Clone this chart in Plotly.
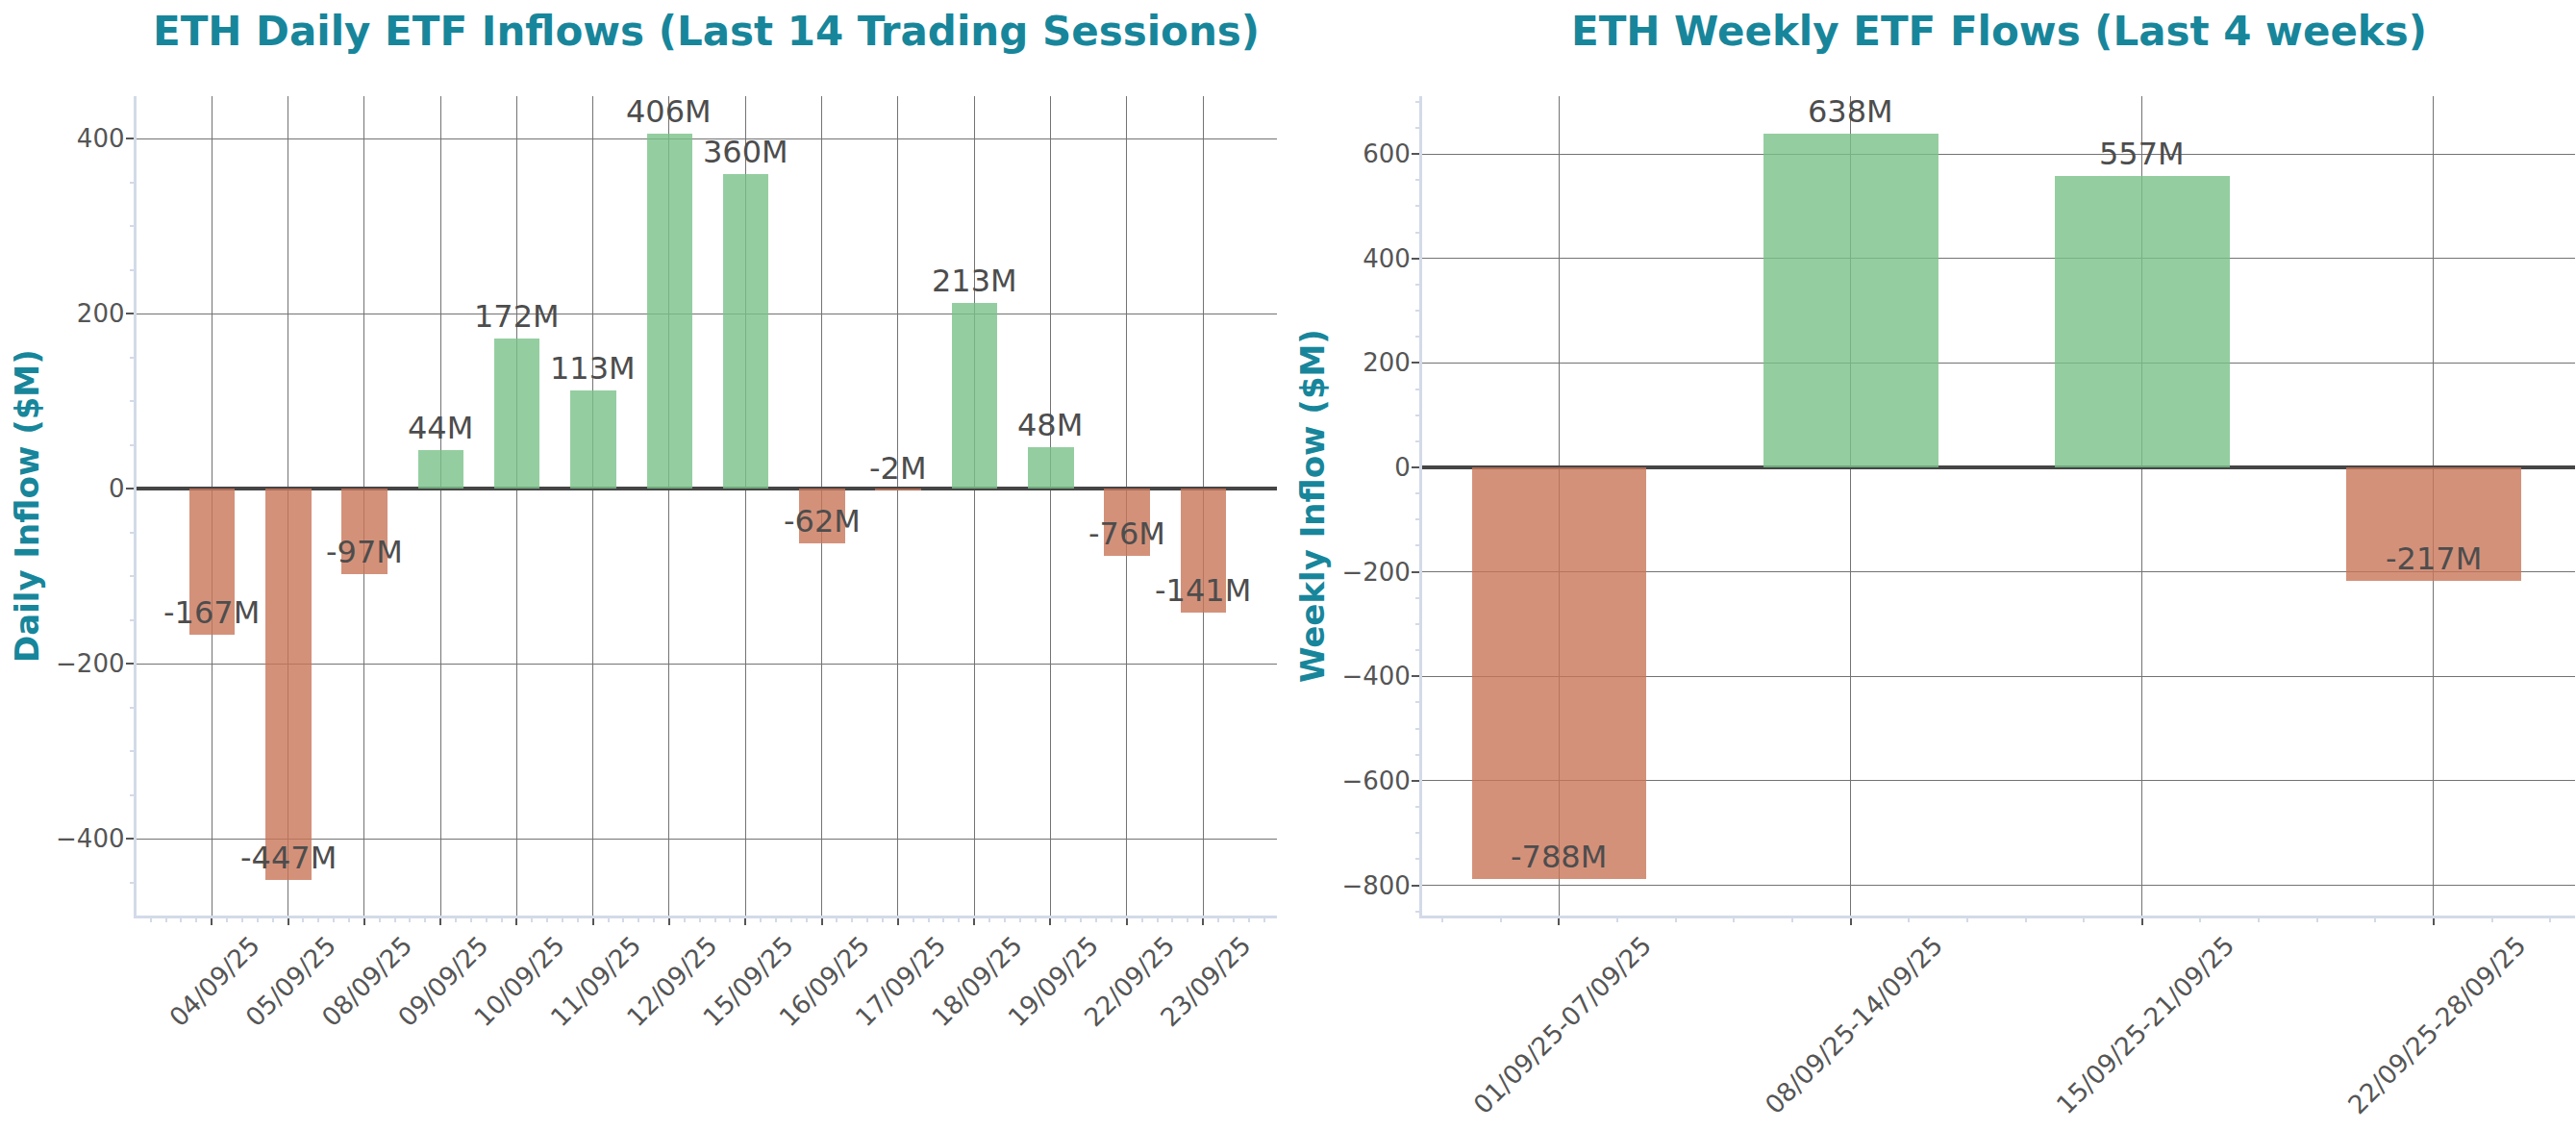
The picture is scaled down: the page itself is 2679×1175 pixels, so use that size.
import plotly.graph_objects as go

# ---------------- data ----------------
daily_dates = ["04/09/25", "05/09/25", "08/09/25", "09/09/25", "10/09/25", "11/09/25", "12/09/25",
               "15/09/25", "16/09/25", "17/09/25", "18/09/25", "19/09/25", "22/09/25", "23/09/25"]
daily_flows = [-167, -447, -97, 44, 172, 113, 406, 360, -62, -2, 213, 48, -76, -141]

weekly_labels = ["01/09/25-07/09/25", "08/09/25-14/09/25", "15/09/25-21/09/25", "22/09/25-28/09/25"]
weekly_flows = [-788, 638, 557, -217]

title_left = "ETH Daily ETF Inflows (Last 14 Trading Sessions)"
title_right = "ETH Weekly ETF Flows (Last 4 weeks)"
ytitle_left = "Daily Inflow ($M)"
ytitle_right = "Weekly Inflow ($M)"

# ---------------- style ----------------
W, H = 2679, 1175
M_T, M_B = 100, 223
PLOT_H = H - M_T - M_B
FONT = "DejaVu Sans"
TEAL = "#17869b"
TICK_C = "#555555"
LABEL_C = "#4d4d4d"
GREEN = "rgba(121,194,136,0.8)"
RED = "rgba(201,118,89,0.8)"
GRID_C = "#737373"
AXLINE_C = "#d3dae8"
ZERO_C = "#454545"
XT_SIZE = 26.5

fig = go.Figure()

def colors(vals):
    return [GREEN if v > 0 else RED for v in vals]

dx = list(range(len(daily_dates)))
wx = list(range(len(weekly_labels)))

fig.add_trace(go.Bar(x=dx, y=daily_flows, marker=dict(color=colors(daily_flows), line=dict(width=0)),
                     width=0.6, xaxis="x", yaxis="y", showlegend=False, hoverinfo="skip"))
fig.add_trace(go.Bar(x=wx, y=weekly_flows, marker=dict(color=colors(weekly_flows), line=dict(width=0)),
                     width=0.6, xaxis="x2", yaxis="y2", showlegend=False, hoverinfo="skip"))

annotations = []
for xi, v in zip(dx, daily_flows):
    annotations.append(dict(x=xi, y=v, xref="x", yref="y", text=f"{v}M", showarrow=False,
                            yanchor="middle", xanchor="center", yshift=23,
                            font=dict(family=FONT, size=32, color=LABEL_C)))
for xi, v in zip(wx, weekly_flows):
    annotations.append(dict(x=xi, y=v, xref="x2", yref="y2", text=f"{v}M", showarrow=False,
                            yanchor="middle", xanchor="center", yshift=23,
                            font=dict(family=FONT, size=32, color=LABEL_C)))

L_DOM = [141.7 / W, 1328 / W]
R_DOM = [1479 / W, 2678 / W]

title_y = 1 + (M_T - 33) / PLOT_H
for dom, txt in [(L_DOM, title_left), (R_DOM, title_right)]:
    annotations.append(dict(x=(dom[0] + dom[1]) / 2, y=title_y, xref="paper", yref="paper",
                            text=txt, showarrow=False, xanchor="center", yanchor="middle",
                            font=dict(family=FONT, size=42, color=TEAL, weight="bold")))
for xpx, txt in [(28, ytitle_left), (1365, ytitle_right)]:
    annotations.append(dict(x=xpx / W, y=0.5, xref="paper", yref="paper", text=txt, textangle=-90,
                            showarrow=False, xanchor="center", yanchor="middle",
                            font=dict(family=FONT, size=34, color=TEAL, weight="bold")))

def label_shift(labels):
    # half the horizontal extent of a 45-degree label, so its centre sits under the tick
    em = 0.0
    for ch in labels[0]:
        em += 0.337 if ch == "/" else (0.361 if ch == "-" else 0.636)
    return int(round(em * XT_SIZE / 2 * 0.7071))

def xaxis(dom, labels, rng):
    return dict(domain=dom, range=rng, tickmode="array", tickvals=list(range(len(labels))),
                ticktext=labels, tickangle=-45, ticklabelshift=label_shift(labels),
                ticklabelstandoff=-5,
                showgrid=True, gridcolor=GRID_C, gridwidth=1.2,
                zeroline=False, showline=True, linecolor=AXLINE_C, linewidth=3,
                ticks="outside", ticklen=7, tickwidth=2, tickcolor=TICK_C,
                tickfont=dict(family=FONT, size=XT_SIZE, color=TICK_C),
                minor=dict(dtick=0.2, tick0=0, ticks="outside", ticklen=4, tickwidth=1.5,
                           tickcolor=AXLINE_C, showgrid=False),
                fixedrange=True)

def yaxis(rng, anchor):
    return dict(domain=[0, 1], range=rng, anchor=anchor, dtick=200, showgrid=True, gridcolor=GRID_C,
                gridwidth=1.2, zeroline=True, zerolinecolor=ZERO_C, zerolinewidth=3.5,
                showline=True, linecolor=AXLINE_C, linewidth=3,
                ticks="outside", ticklen=8, tickwidth=2, tickcolor=TICK_C, ticklabelstandoff=-4,
                tickfont=dict(family=FONT, size=26, color=TICK_C),
                minor=dict(dtick=50, ticks="outside", ticklen=4, tickwidth=1.5,
                           tickcolor=AXLINE_C, showgrid=False),
                fixedrange=True)

fig.update_layout(
    width=W, height=H,
    margin=dict(l=0, r=0, t=M_T, b=M_B, autoexpand=False),
    paper_bgcolor="white", plot_bgcolor="white",
    font=dict(family=FONT, color=TICK_C),
    bargap=0,
    xaxis=dict(**xaxis(L_DOM, daily_dates, [-0.99, 13.97]), anchor="y"),
    yaxis=yaxis([-487.5, 448.7], "x"),
    xaxis2=dict(**xaxis(R_DOM, weekly_labels, [-0.47, 3.485]), anchor="y2"),
    yaxis2=yaxis([-858, 710.7], "x2"),
    annotations=annotations,
    showlegend=False,
)

fig.write_html("out.html", config={"displayModeBar": False},
               post_script="document.body.style.margin='0px';")
